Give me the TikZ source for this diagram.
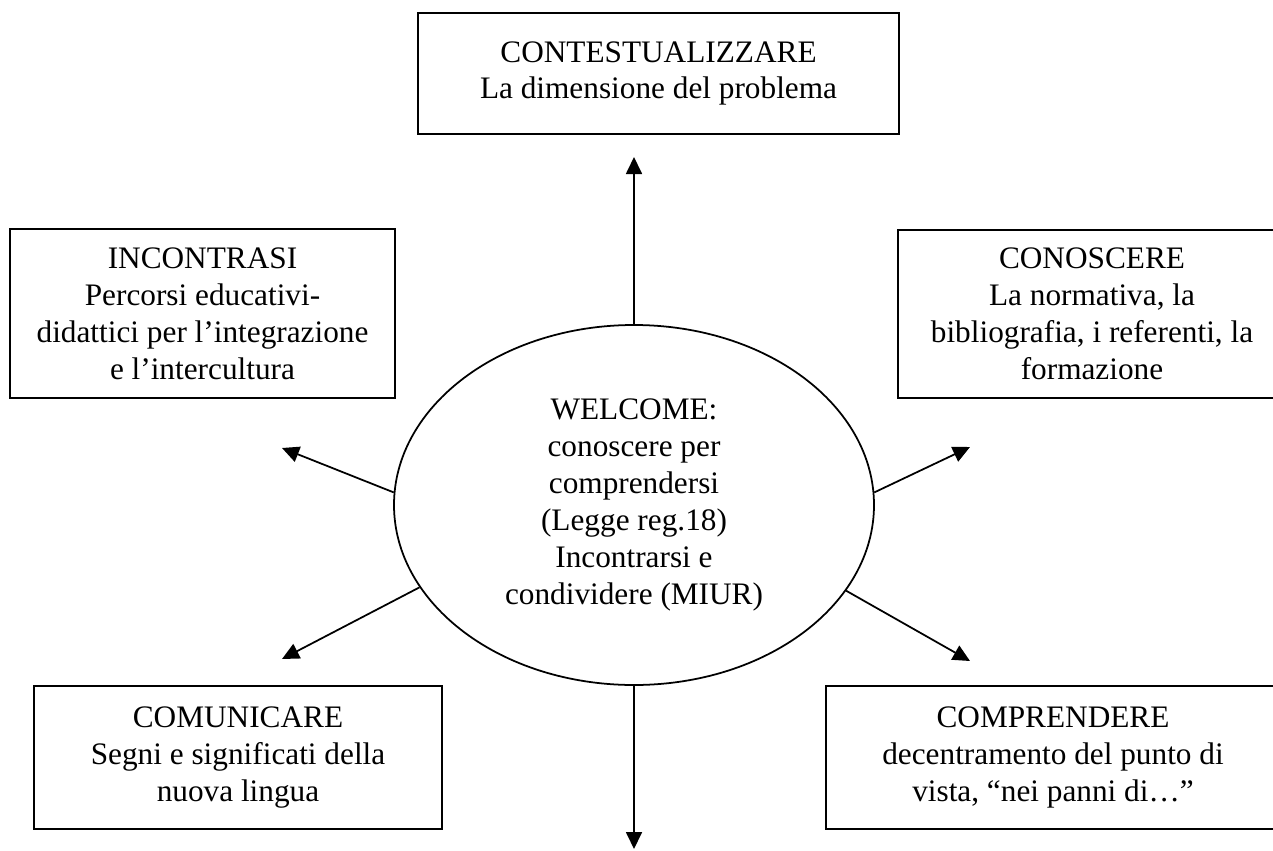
\documentclass[tikz,border=0pt]{standalone}
\usepackage{fontspec}
\setmainfont{Liberation Serif}
\usepackage{tikz}
\usetikzlibrary{arrows.meta, positioning, shapes.geometric}

\begin{document}
\begin{tikzpicture}[
    box/.style={draw, line width=1pt, align=center, inner sep=0pt, font=\fontsize{17.8}{21}\selectfont},
    hub/.style={draw, ellipse, line width=1pt, align=center, inner sep=0pt, minimum width=9.6cm, minimum height=7.2cm, font=\fontsize{17.8}{21}\selectfont},
    link/.style={->, line width=1pt},
    >={Triangle[length=3.4mm, width=3.2mm]}
  ]
  \useasboundingbox (0,0) rectangle (25.46,-17);

  \node[hub] (welcome) at (12.68,-10.1) {WELCOME:\\conoscere per\\comprendersi\\(Legge reg.18)\\Incontrarsi e\\condividere (MIUR)};

  \node[box, minimum width=9.62cm, minimum height=2.42cm] (contest) at (13.17,-1.47) {CONTESTUALIZZARE\\La dimensione del problema};
  \node[box, minimum width=7.7cm, minimum height=3.38cm] (incontrasi) at (4.05,-6.27) {INCONTRASI\\Percorsi educativi-\\didattici per l’integrazione\\e l’intercultura};
  \node[box, minimum width=7.76cm, minimum height=3.36cm] (conoscere) at (21.84,-6.28) {CONOSCERE\\La normativa, la\\bibliografia, i referenti, la\\formazione};
  \node[box, minimum width=8.16cm, minimum height=2.86cm] (comunicare) at (4.76,-15.15) {COMUNICARE\\Segni e significati della\\nuova lingua};
  \node[box, minimum width=9.08cm, minimum height=2.86cm] (comprendere) at (21.06,-15.15) {COMPRENDERE\\decentramento del punto di\\vista, “nei panni di…”};

  \coordinate (toContest) at (12.68,-3.14);
  \coordinate (toIncontrasi) at (5.64,-8.96);
  \coordinate (toConoscere) at (19.4,-8.94);
  \coordinate (toComunicare) at (5.64,-13.18);
  \coordinate (toComprendere) at (19.4,-13.22);
  \coordinate (toBottom) at (12.68,-16.98);

  \draw[link] (welcome.north) -- (toContest);
  \draw[link] (welcome.177) -- (toIncontrasi);
  \draw[link] (welcome.3) -- (toConoscere);
  \draw[link] (welcome.201.5) -- (toComunicare);
  \draw[link] (welcome.338.5) -- (toComprendere);
  \draw[link] (welcome.south) -- (toBottom);
\end{tikzpicture}
\end{document}
